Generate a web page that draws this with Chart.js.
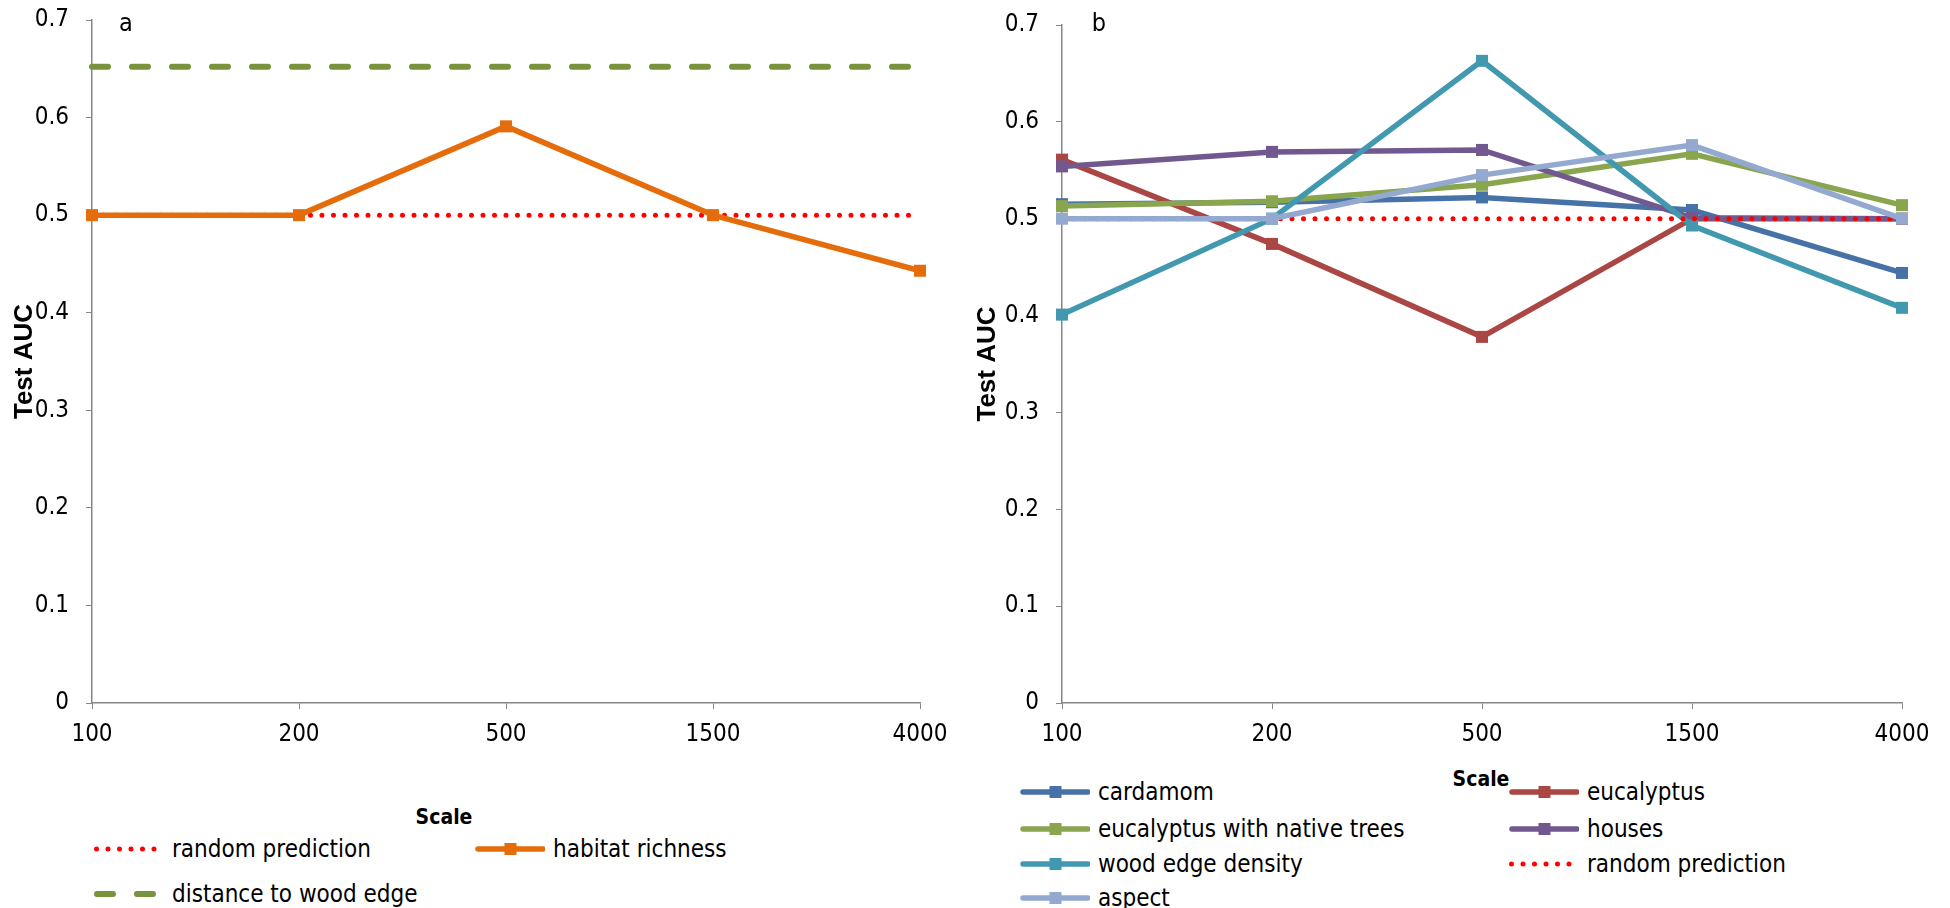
<!DOCTYPE html>
<html>
<head>
<meta charset="utf-8">
<script src="https://cdn.jsdelivr.net/npm/chart.js@4.4.0/dist/chart.umd.min.js"></script>
<style>
  body { margin: 0; background: #fff; width: 1950px; height: 908px; overflow: hidden; position: relative;
         font-family: 'DejaVu Sans Condensed', 'DejaVu Sans', sans-serif; color: #000; }
  canvas { position: absolute; top: 0; }
  #chartA { left: 0; }
  #chartB { left: 975px; }
  .lbl { position: absolute; transform: translate(-50%, -50%); white-space: nowrap; }
  .axisTitle { font-weight: bold; font-size: 21px; }
  .panel { font-size: 25px; }
  .legItem { position: absolute; height: 30px; display: flex; align-items: center; font-size: 24px; white-space: nowrap; }
  .legItem svg { width: 70px; height: 16px; margin-right: 8px; flex: none; }
</style>
</head>
<body>
<canvas id="chartA" width="975" height="760"></canvas>
<canvas id="chartB" width="975" height="760"></canvas>
<div class="lbl panel" style="left:126px;top:22px">a</div>
<div class="lbl panel" style="left:1099px;top:22px">b</div>
<div class="lbl axisTitle" style="left:444px;top:817px">Scale</div>
<div class="lbl axisTitle" style="left:1481px;top:779px">Scale</div>
<script>
var scales = ['100', '200', '500', '1500', '4000'];
var yMin = 0, yMax = 0.7, yStep = 0.1;

// panel a
var randomPredictionA = [0.5, 0.5, 0.5, 0.5, 0.5];
var habitatRichness = [0.5, 0.5, 0.591, 0.5, 0.443];
var distanceToWoodEdge = [0.652, 0.652, 0.652, 0.652, 0.652];

// panel b
var cardamom = [0.515, 0.517, 0.522, 0.509, 0.444];
var eucalyptus = [0.561, 0.474, 0.378, 0.5, 0.5];
var eucalyptusNative = [0.513, 0.518, 0.535, 0.567, 0.514];
var houses = [0.554, 0.569, 0.571, 0.501, 0.5];
var woodEdgeDensity = [0.401, 0.5, 0.663, 0.493, 0.408];
var randomPredictionB = [0.5, 0.5, 0.5, 0.5, 0.5];
var aspect = [0.5, 0.5, 0.545, 0.576, 0.5];

var fontNarrow = "'DejaVu Sans Condensed', 'DejaVu Sans', sans-serif";
var axisGrey = '#868686';

function markerLine(label, values, color) {
  return {
    label: label, data: values, kind: 'marker',
    borderColor: color, backgroundColor: color, borderWidth: 5.5,
    pointStyle: 'rect', pointRadius: 8.5, pointHoverRadius: 8.5,
    pointBackgroundColor: color, pointBorderWidth: 0,
    tension: 0, clip: false
  };
}
function dottedLine(label, values) {
  return {
    label: label, data: values, kind: 'dot',
    borderColor: '#ff0000', borderWidth: 5, borderDash: [0, 11.5], borderCapStyle: 'round',
    pointRadius: 0, tension: 0, clip: false
  };
}
function dashedLine(label, values, color) {
  return {
    label: label, data: values, kind: 'dash',
    borderColor: color, borderWidth: 6, borderDash: [16, 24], borderCapStyle: 'round',
    pointRadius: 0, tension: 0
  };
}

function makeChart(id, datasets, box, legendPos) {
  // later series are drawn on top, like the original
  datasets.forEach(function (d, i) { d.order = datasets.length - i; });
  new Chart(document.getElementById(id), {
    type: 'line',
    data: { labels: scales, datasets: datasets },
    options: {
      responsive: false, animation: false, devicePixelRatio: 1,
      layout: { padding: { top: box.top, right: box.right, left: 0, bottom: 0 } },
      plugins: { legend: { display: false }, tooltip: { enabled: false } },
      events: [],
      scales: {
        x: {
          offset: false,
          grid: { drawOnChartArea: false, drawTicks: true, tickLength: 6, color: axisGrey },
          border: { color: axisGrey, width: 1.5 },
          ticks: { color: '#000', font: { family: fontNarrow, size: 24 }, padding: 11, maxRotation: 0 },
          afterFit: function (axis) {
            axis.height = box.xHeight;
            axis.paddingLeft = 0; axis.paddingRight = 0;
          }
        },
        y: {
          min: yMin, max: yMax,
          grid: { drawOnChartArea: false, drawTicks: true, tickLength: 6, color: axisGrey },
          border: { color: axisGrey, width: 1.5 },
          ticks: {
            stepSize: yStep, color: '#000', font: { family: fontNarrow, size: 24 }, padding: 17,
            callback: function (v) { return String(Math.round(v * 10) / 10); }
          },
          title: {
            display: true, text: 'Test AUC', color: '#000',
            font: { family: "'Liberation Sans', Arial, sans-serif", weight: 'bold', size: 26, lineHeight: 1 },
            padding: { top: box.titlePad, bottom: 0 }
          },
          afterFit: function (axis) {
            axis.width = box.yWidth;
            axis.paddingTop = 0; axis.paddingBottom = 0;
          }
        }
      }
    }
  });

  // legend below the plot, built from the same datasets
  datasets.forEach(function (d, i) {
    var col = i % 2, row = Math.floor(i / 2);
    var item = document.createElement('div');
    item.className = 'legItem';
    item.style.left = legendPos.x[col] + 'px';
    item.style.top = (legendPos.y[row] - 15) + 'px';
    var svg;
    if (d.kind === 'dot') {
      svg = '<svg viewBox="0 0 70 16"><line x1="2.5" y1="8" x2="62" y2="8" stroke="' + d.borderColor +
        '" stroke-width="5" stroke-linecap="round" stroke-dasharray="0 11.5"/></svg>';
    } else if (d.kind === 'dash') {
      svg = '<svg viewBox="0 0 70 16"><line x1="3" y1="8" x2="67" y2="8" stroke="' + d.borderColor +
        '" stroke-width="6" stroke-linecap="round" stroke-dasharray="16 24"/></svg>';
    } else {
      svg = '<svg viewBox="0 0 70 16"><line x1="3" y1="8" x2="68" y2="8" stroke="' + d.borderColor +
        '" stroke-width="5.5" stroke-linecap="round"/><rect x="29.5" y="2" width="12" height="12" fill="' +
        d.borderColor + '"/></svg>';
    }
    item.innerHTML = svg + '<span>' + d.label + '</span>';
    document.body.appendChild(item);
  });
}

makeChart('chartA', [
  dottedLine('random prediction', randomPredictionA),
  markerLine('habitat richness', habitatRichness, '#e46c0a'),
  dashedLine('distance to wood edge', distanceToWoodEdge, '#77933c')
], { top: 20, right: 55, xHeight: 57, yWidth: 92, titlePad: 12 },
   { x: [94, 475], y: [849, 894] });

makeChart('chartB', [
  markerLine('cardamom', cardamom, '#4672a8'),
  markerLine('eucalyptus', eucalyptus, '#aa4643'),
  markerLine('eucalyptus with native trees', eucalyptusNative, '#89a54e'),
  markerLine('houses', houses, '#71588f'),
  markerLine('wood edge density', woodEdgeDensity, '#4198af'),
  dottedLine('random prediction', randomPredictionB),
  markerLine('aspect', aspect, '#93a9cf')
], { top: 25, right: 48, xHeight: 57, yWidth: 87, titlePad: 0 },
   { x: [1020, 1509], y: [792, 829, 864, 898] });
</script>
</body>
</html>
